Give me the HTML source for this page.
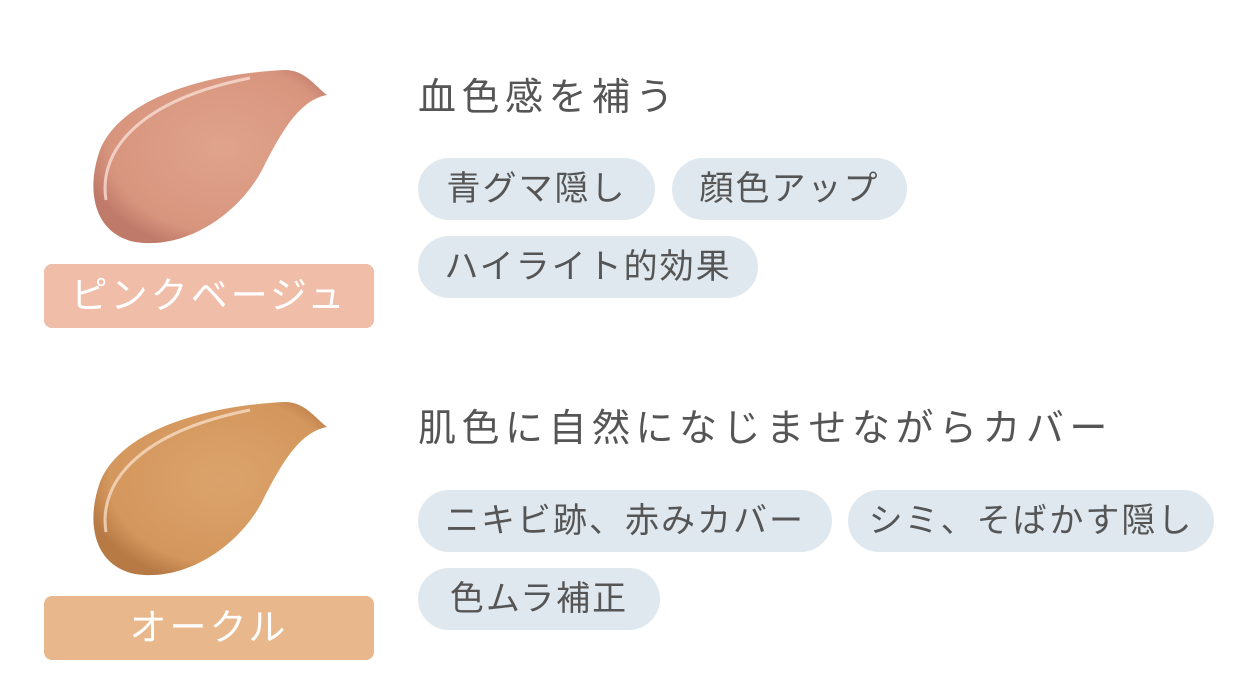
<!DOCTYPE html>
<html><head><meta charset="utf-8"><style>
body{margin:0;width:1260px;height:700px;background:#fff;position:relative;overflow:hidden;font-family:"Liberation Sans","Noto Sans CJK JP",sans-serif;}
.h{position:absolute;left:418px;font-size:38px;color:#555;letter-spacing:5.5px;line-height:40px;white-space:nowrap;}
.p{position:absolute;height:62px;border-radius:31px;background:#dfe8ee;color:#555;font-size:34px;line-height:62px;text-align:center;letter-spacing:2px;white-space:nowrap;}
.l{position:absolute;left:44px;width:330px;height:64px;border-radius:8px;color:#fff;font-size:37px;line-height:64px;text-align:center;letter-spacing:3px;}
svg{position:absolute;left:0;top:0;}
</style></head><body>
<svg width="1260" height="700">
<defs>
<radialGradient id="g1" cx="0.55" cy="0.45" r="0.6"><stop offset="0" stop-color="#e0a38b"/><stop offset="0.8" stop-color="#d8957e"/><stop offset="1" stop-color="#c07a6a"/></radialGradient>
<radialGradient id="g2" cx="0.55" cy="0.45" r="0.6"><stop offset="0" stop-color="#dba36b"/><stop offset="0.8" stop-color="#d4975d"/><stop offset="1" stop-color="#b87a45"/></radialGradient>
</defs>
<g>
<path d="M327 95 C300 100 282 130 262 170 C238 215 185 250 135 242 C95 234 85 192 100 150 C120 100 200 74 285 70 C305 70 315 86 327 95 Z" fill="url(#g1)"/>
<path d="M106 200 C98 150 140 100 250 78" stroke="#f7dcd3" stroke-width="3" fill="none" opacity="0.8"/>
</g>
<g transform="translate(0,332)">
<path d="M327 95 C300 100 282 130 262 170 C238 215 185 250 135 242 C95 234 85 192 100 150 C120 100 200 74 285 70 C305 70 315 86 327 95 Z" fill="url(#g2)"/>
<path d="M106 200 C98 150 140 100 250 78" stroke="#f5dcc4" stroke-width="3" fill="none" opacity="0.8"/>
</g>
</svg>
<div class="l" style="top:264px;background:#efbda8">ピンクベージュ</div>
<div class="l" style="top:596px;background:#e8b88c">オークル</div>
<div class="h" style="top:78px">血色感を補う</div>
<div class="p" style="top:158px;left:418px;width:237px">青グマ隠し</div>
<div class="p" style="top:158px;left:672px;width:235px">顔色アップ</div>
<div class="p" style="top:236px;left:418px;width:340px">ハイライト的効果</div>
<div class="h" style="top:409px">肌色に自然になじませながらカバー</div>
<div class="p" style="top:490px;left:418px;width:414px">ニキビ跡、赤みカバー</div>
<div class="p" style="top:490px;left:848px;width:366px">シミ、そばかす隠し</div>
<div class="p" style="top:568px;left:418px;width:242px">色ムラ補正</div>
</body></html>
